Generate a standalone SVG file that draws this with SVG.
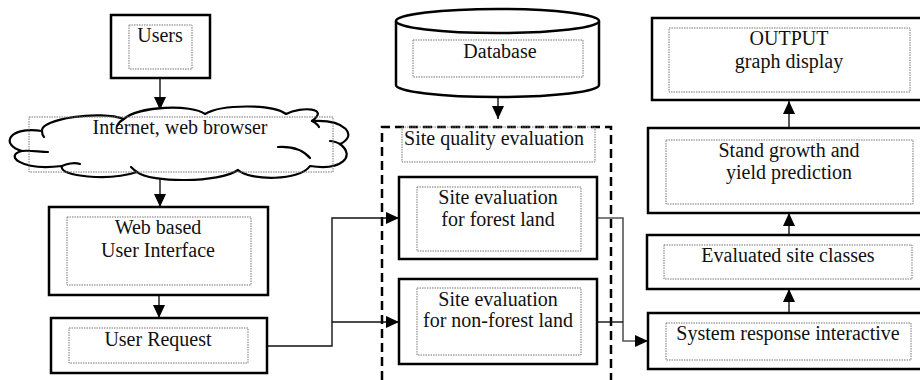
<svg xmlns="http://www.w3.org/2000/svg" width="920" height="380" viewBox="0 0 920 380">
  <style>
    .box { fill: #fff; stroke: #000; stroke-width: 2.5; }
    .inner { fill: none; stroke: #777; stroke-width: 1; stroke-dasharray: 1.5 1; }
    .lbl { font-family: "Liberation Serif", "Times New Roman", serif; font-size: 20px; fill: #111; text-anchor: middle; }
    .link { fill: none; stroke: #111; stroke-width: 1.4; }
    .link2 { fill: none; stroke: #555; stroke-width: 1.6; }
    .group { fill: none; stroke: #000; stroke-width: 2.5; stroke-dasharray: 9 5; }
    .cloud { fill: #fff; stroke: #000; stroke-width: 2.2; stroke-linejoin: round; }
    .curl { fill: none; stroke: #000; stroke-width: 2.2; stroke-linecap: round; }
  </style>
  <defs>
    <marker id="arrow" viewBox="0 0 13 12" refX="13" refY="6" markerWidth="13" markerHeight="12" markerUnits="userSpaceOnUse" orient="auto">
      <path d="M0,0 L13,6 L0,12 Z" fill="#000"/>
    </marker>
  </defs>

  <rect width="920" height="380" fill="#fff"/>

  <!-- dashed container for site quality evaluation -->
  <g id="site-quality-group">
    <path class="group" d="M382,380 L382,127 L611,127 L611,380"/>
  </g>

  <!-- connectors -->
  <g id="connectors">
    <line class="link" x1="160" y1="78" x2="160" y2="110" marker-end="url(#arrow)"/>
    <line class="link" x1="160" y1="178" x2="160" y2="207" marker-end="url(#arrow)"/>
    <line class="link" x1="159" y1="295" x2="159" y2="318" marker-end="url(#arrow)"/>
    <line class="link" x1="498" y1="97" x2="498" y2="119" marker-end="url(#arrow)"/>
    <polyline class="link" points="267,346 332,346 332,218 399,218" marker-end="url(#arrow)"/>
    <polyline class="link" points="332,322 399,322" marker-end="url(#arrow)"/>
    <polyline class="link2" points="597,218 623,218 623,341 648,341" marker-end="url(#arrow)"/>
    <polyline class="link" points="597,322 623,322"/>
    <line class="link" x1="789" y1="313" x2="789" y2="289" marker-end="url(#arrow)"/>
    <line class="link" x1="789" y1="235" x2="789" y2="213" marker-end="url(#arrow)"/>
    <line class="link" x1="789" y1="128" x2="789" y2="101" marker-end="url(#arrow)"/>
  </g>

  <g id="users">
    <rect class="box" x="111" y="15" width="99" height="63"/>
    <rect class="inner" x="129" y="25" width="63" height="44"/>
    <text class="lbl" x="160" y="42">Users</text>
  </g>

  <g id="internet">
    <path class="cloud" d="M42,131 C40,119 100,110 124,119 C138,106 192,104 205,114 C222,104 272,104 286,114 C302,106 330,108 312,121 C346,119 358,136 340,144 C356,156 342,171 310,166 C300,181 250,181 238,170 C220,183 150,183 137,172 C110,181 58,177 62,166 C20,171 4,155 22,151 C0,145 8,126 42,131 Z"/>
    <path class="curl" d="M22,151 C30,150 40,152 48,152"/>
    <path class="curl" d="M278,147 C294,146 304,151 310,158"/>
    <path class="curl" d="M62,166 C66,164 74,162 80,164"/>
    <path class="curl" d="M124,119 C120,121 118,124 117,126"/>
    <path class="curl" d="M42,131 C42,134 43,136 44,137"/>
    <path class="curl" d="M137,172 C134,170 132,168 131,167"/>
    <path class="curl" d="M340,144 C336,142 333,141 330,141"/>
    <path class="curl" d="M312,121 C316,123 318,125 319,127"/>
    <rect class="inner" x="29" y="117" width="304" height="55"/>
    <text class="lbl" x="180" y="134">Internet, web browser</text>
  </g>

  <g id="web-ui">
    <rect class="box" x="49" y="207" width="219" height="88"/>
    <rect class="inner" x="67" y="217" width="184" height="68"/>
    <text class="lbl" x="158" y="234">Web based</text>
    <text class="lbl" x="158" y="257">User Interface</text>
  </g>

  <g id="user-request">
    <rect class="box" x="51" y="318" width="216" height="55"/>
    <rect class="inner" x="69" y="328" width="179" height="35"/>
    <text class="lbl" x="158" y="346">User Request</text>
  </g>

  <g id="database">
    <path class="box" d="M396,21 L396,85 A101.5,12 0 0 0 599,85 L599,21"/>
    <ellipse class="box" cx="497.5" cy="21" rx="101.5" ry="12"/>
    <rect class="inner" x="413" y="40" width="170" height="37"/>
    <text class="lbl" x="500" y="58">Database</text>
  </g>

  <g id="site-quality-label">
    <rect class="inner" x="402" y="127" width="193" height="35"/>
    <text class="lbl" x="494" y="145">Site quality evaluation</text>
  </g>

  <g id="forest">
    <rect class="box" x="399" y="177" width="198" height="82"/>
    <rect class="inner" x="417" y="187" width="164" height="64"/>
    <text class="lbl" x="498" y="204">Site evaluation</text>
    <text class="lbl" x="498" y="226">for forest land</text>
  </g>

  <g id="non-forest">
    <rect class="box" x="399" y="279" width="198" height="85"/>
    <rect class="inner" x="417" y="288" width="164" height="67"/>
    <text class="lbl" x="498" y="306">Site evaluation</text>
    <text class="lbl" x="498" y="327">for non-forest land</text>
  </g>

  <g id="output">
    <rect class="box" x="652" y="18" width="275" height="82"/>
    <rect class="inner" x="669" y="28" width="241" height="64"/>
    <text class="lbl" x="789" y="45">OUTPUT</text>
    <text class="lbl" x="789" y="68">graph display</text>
  </g>

  <g id="stand-growth">
    <rect class="box" x="648" y="128" width="279" height="85"/>
    <rect class="inner" x="666" y="140" width="247" height="64"/>
    <text class="lbl" x="789" y="157">Stand growth and</text>
    <text class="lbl" x="789" y="179">yield prediction</text>
  </g>

  <g id="site-classes">
    <rect class="box" x="647" y="235" width="280" height="54"/>
    <rect class="inner" x="664" y="245" width="248" height="34"/>
    <text class="lbl" x="788" y="262">Evaluated site classes</text>
  </g>

  <g id="system-response">
    <rect class="box" x="648" y="313" width="279" height="56"/>
    <rect class="inner" x="666" y="323" width="245" height="37"/>
    <text class="lbl" x="788" y="340">System response interactive</text>
  </g>
</svg>
